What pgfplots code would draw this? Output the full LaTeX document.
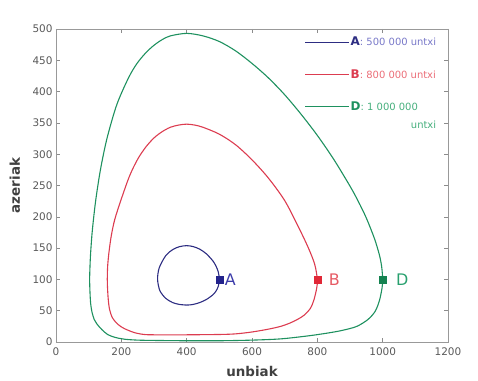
\documentclass[border=0pt]{standalone}
\usepackage{fontspec}
\setmainfont{DejaVu Sans}
\usepackage{pgfplots}
\pgfplotsset{compat=1.18}
\definecolor{cA}{RGB}{45,45,130}
\definecolor{cB}{RGB}{220,60,80}
\definecolor{cD}{RGB}{30,145,95}
\definecolor{mA}{RGB}{35,35,140}
\definecolor{mB}{RGB}{225,40,55}
\definecolor{mD}{RGB}{20,130,80}
\definecolor{tA}{RGB}{60,60,170}
\definecolor{tB}{RGB}{230,90,100}
\definecolor{tD}{RGB}{40,160,110}
\definecolor{sA}{RGB}{120,120,200}
\definecolor{sB}{RGB}{235,110,120}
\definecolor{sD}{RGB}{70,175,125}
\begin{document}
\begin{tikzpicture}
\useasboundingbox (-56bp,-39bp) rectangle (422bp,342bp);
\begin{axis}[
  at={(0,0)}, anchor=south west, scale only axis,
  width=392bp, height=313bp,
  xmin=0, xmax=1200, ymin=0, ymax=500,
  xtick={0,200,...,1200}, ytick={0,50,...,500},
  scaled ticks=false,
  /pgf/number format/assume math mode=true,
  /pgf/number format/set thousands separator={},
  axis line style={draw=black!40, line width=0.8bp},
  tick style={draw=black!45, line width=0.6bp},
  major tick length=4bp,
  ticklabel style={font=\fontsize{10.5}{12}\selectfont, text=black!65},
  xticklabel style={yshift=-2bp},
  xlabel={unbiak}, ylabel={azeriak},
  label style={font=\bfseries\fontsize{13.5}{15}\selectfont, text=black!75},
  xlabel style={at={(axis description cs:0.5,-0.095)}, anchor=center},
  ylabel style={at={(axis description cs:-0.105,0.5)}, anchor=center},
  legend style={at={(rel axis cs:0.634,0.978)}, anchor=north west, draw=none, fill=none,
     inner sep=0pt, row sep=20bp, nodes={inner sep=1bp}},
  legend cell align=left,
  legend image code/.code={\draw[#1, line width=1bp] (0bp,0bp) -- (44bp,0bp);},
]
\addplot[cA, line width=1.1bp, smooth] coordinates {
(400,59) (378,60) (357,63) (336,69.7) (318,82) (311,100) (316,118.5) (336,138) (357,147.5)
(378,152.3) (400,153.9) (420,152.4) (440,148.3) (460,141) (480,129.7) (490,121) (497,111.5)
(500,100) (497,89.3) (490,81.5) (480,75.3) (460,67.8) (440,63) (420,60) (400,59) (378,60)};
\addlegendentry{\textcolor{cA}{\bfseries\fontsize{12}{12}\selectfont A}\textcolor{sA}{\fontsize{10}{10}\selectfont : 500 000 untxi}}
\addplot[cB, line width=1.1bp, smooth] coordinates {
(500,12) (400,11.5) (300,11.5) (270,12) (240,15) (209,21.5) (190,28) (173,38.5) (164,52)
(160,68) (158,84) (157,100) (158,120) (161,138) (165,155) (170,172) (180,196) (199,227)
(225,265) (250,292) (275,311.5) (300,326) (325,336) (350,343) (375,346.5) (400,348) (425,346.5)
(450,343) (500,332) (550,315) (600,291) (650,262) (700,226) (740,186) (772,151) (792,124)
(800,100) (798,86) (790,68) (779,54) (760,43) (739,36) (715,30) (688,25) (650,20.5) (600,16)
(550,13) (500,12) (400,11.5)};
\addlegendentry{\textcolor{cB}{\bfseries\fontsize{12}{12}\selectfont B}\textcolor{sB}{\fontsize{10}{10}\selectfont : 800 000 untxi}}
\addplot[cD, line width=1.1bp, smooth] coordinates {
(500,2) (400,2) (300,2.5) (250,3) (209,4.5) (180,7.5) (158,12) (140,20) (125,29) (117,36)
(110,48) (106,62) (104,80) (103,100) (104,120) (106,142) (111,177) (121,224) (136,275)
(156,325) (186,379) (222,422) (248,445) (275,462) (300,474) (325,483) (350,489) (400,493)
(450,489) (500,480) (550,465) (600,445) (650,422) (700,395) (750,364) (800,330) (850,292)
(900,249) (925,225) (950,198) (975,165) (990,139) (997,120) (1000,100) (998,86) (990,66)
(977,49) (955,36) (921,25) (880,19) (840,15) (775,10) (688,5) (600,3) (500,2) (400,2)};
\addlegendentry{\textcolor{cD}{\bfseries\fontsize{12}{12}\selectfont D}\textcolor{sD}{\fontsize{10}{10}\selectfont : 1 000 000}}
\addplot[only marks, mark=square*, mark size=3.5bp, color=mA, forget plot,
  nodes near coords={A},
  every node near coord/.style={anchor=west, xshift=2bp, font=\fontsize{16}{16}\selectfont, text=tA}]
  coordinates {(500,100)};
\addplot[only marks, mark=square*, mark size=3.5bp, color=mB, forget plot,
  nodes near coords={B},
  every node near coord/.style={anchor=west, xshift=8bp, font=\fontsize{16}{16}\selectfont, text=tB}]
  coordinates {(800,100)};
\addplot[only marks, mark=square*, mark size=3.5bp, color=mD, forget plot,
  nodes near coords={D},
  every node near coord/.style={anchor=west, xshift=10bp, font=\fontsize{16}{16}\selectfont, text=tD}]
  coordinates {(1000,100)};
\node[anchor=west, inner sep=0pt, font=\fontsize{10}{10}\selectfont, text=sD] at (rel axis cs:0.905,0.695) {untxi};
\node[anchor=south west, inner sep=0pt, font=\fontsize{9}{10}\selectfont, text=black!70] at (rel axis cs:0.012,1.012) {×\,10\textsuperscript{3}};
\node[anchor=west, inner sep=0pt, font=\fontsize{8.5}{10}\selectfont, text=black!70] at (rel axis cs:1.0135,-0.11) {×\,10\textsuperscript{3}};
\end{axis}
\end{tikzpicture}
\end{document}
